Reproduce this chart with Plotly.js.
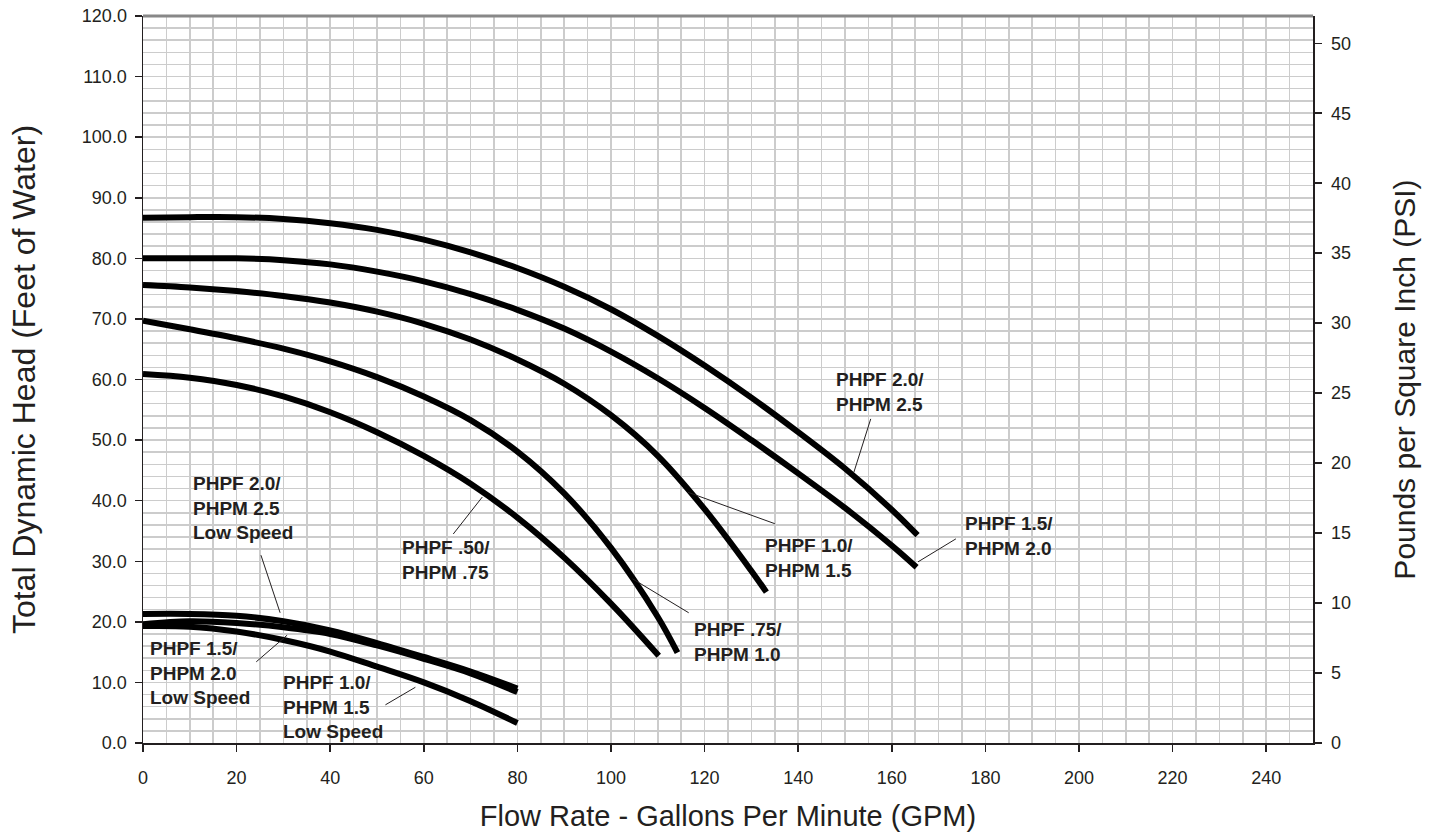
<!DOCTYPE html>
<html>
<head>
<meta charset="utf-8">
<script src="https://cdn.plot.ly/plotly-3.0.1.min.js"></script>
<style>
  html, body { margin: 0; padding: 0; background: #ffffff; }
  #chart { width: 1437px; height: 837px; }
</style>
</head>
<body>
<div id="chart"></div>
<script>
// ---- Data ----
const FT_PER_PSI = 2.31;

const phpf20_x = [0, 10, 20, 30, 40, 50, 60, 70, 80, 90, 100, 110, 120, 130, 140, 150, 160, 165.5];
const phpf20_y = [86.7, 86.8, 86.8, 86.5, 85.8, 84.7, 83.1, 81.0, 78.4, 75.3, 71.6, 67.2, 62.3, 57.0, 51.3, 45.3, 38.5, 34.3];

const phpf15_x = [0, 10, 20, 30, 40, 50, 60, 70, 80, 90, 100, 110, 120, 130, 140, 150, 160, 165.3];
const phpf15_y = [80.0, 80.0, 80.0, 79.7, 79.0, 77.8, 76.2, 74.1, 71.5, 68.4, 64.6, 60.2, 55.3, 50.0, 44.5, 38.8, 32.6, 29.0];

const phpf10_x = [0, 10, 20, 30, 40, 50, 60, 70, 80, 90, 100, 110, 120, 130, 133.2];
const phpf10_y = [75.6, 75.2, 74.6, 73.8, 72.7, 71.2, 69.2, 66.6, 63.3, 59.3, 54.1, 47.4, 38.6, 28.4, 24.9];

const phpf75_x = [0, 10, 20, 30, 40, 50, 60, 70, 80, 90, 100, 110, 114.2];
const phpf75_y = [69.7, 68.3, 66.8, 65.1, 63.0, 60.4, 57.2, 53.3, 48.1, 41.2, 32.2, 20.8, 14.9];

const phpf50_x = [0, 10, 20, 30, 40, 50, 60, 70, 80, 90, 100, 110.2];
const phpf50_y = [60.9, 60.3, 59.1, 57.2, 54.6, 51.3, 47.4, 42.8, 37.2, 30.6, 23.0, 14.4];

const ls20_x = [0, 10, 20, 30, 40, 50, 60, 70, 80];
const ls20_y = [21.3, 21.3, 21.0, 20.1, 18.6, 16.5, 14.2, 11.8, 9.0];

const ls15_x = [0, 10, 20, 30, 40, 50, 60, 70, 80];
const ls15_y = [19.6, 20.1, 19.8, 19.1, 18.0, 16.1, 13.9, 11.5, 8.4];

const ls10_x = [0, 10, 20, 30, 40, 50, 60, 70, 80];
const ls10_y = [19.3, 19.2, 18.4, 17.0, 15.1, 12.6, 10.0, 6.9, 3.3];

const leftTickVals = [0, 10, 20, 30, 40, 50, 60, 70, 80, 90, 100, 110, 120];
const rightTickVals = [0, 5, 10, 15, 20, 25, 30, 35, 40, 45, 50];
const xTickVals = [0, 20, 40, 60, 80, 100, 120, 140, 160, 180, 200, 220, 240];

const labelTexts = [
  "PHPF 2.0/<br>PHPM 2.5",
  "PHPF 1.5/<br>PHPM 2.0",
  "PHPF 1.0/<br>PHPM 1.5",
  "PHPF .75/<br>PHPM 1.0",
  "PHPF .50/<br>PHPM .75",
  "PHPF 2.0/<br>PHPM 2.5<br>Low Speed",
  "PHPF 1.5/<br>PHPM 2.0<br>Low Speed",
  "PHPF 1.0/<br>PHPM 1.5<br>Low Speed"
];

// ---- Styling / layout ----
const INK = '#231f20';
const GRID = '#cccccc';
const FONT = 'Liberation Sans, Arial, sans-serif';

function curve(x, y, name, w) {
  return {
    x: x, y: y, name: name, type: 'scatter', mode: 'lines',
    line: { color: '#000000', width: w, shape: 'spline', smoothing: 1.0 },
    hoverinfo: 'x+y+name', showlegend: false
  };
}

const traces = [
  curve(phpf20_x, phpf20_y, labelTexts[0], 6),
  curve(phpf15_x, phpf15_y, labelTexts[1], 6),
  curve(phpf10_x, phpf10_y, labelTexts[2], 6),
  curve(phpf75_x, phpf75_y, labelTexts[3], 6),
  curve(phpf50_x, phpf50_y, labelTexts[4], 6),
  curve(ls20_x, ls20_y, labelTexts[5], 6),
  curve(ls15_x, ls15_y, labelTexts[6], 6),
  curve(ls10_x, ls10_y, labelTexts[7], 6),
  // same top curve expressed in PSI, attached to the right-hand axis (invisible)
  {
    x: phpf20_x, y: phpf20_y.map(v => v / FT_PER_PSI), yaxis: 'y2',
    type: 'scatter', mode: 'lines', line: { width: 0, color: 'rgba(0,0,0,0)' },
    hoverinfo: 'skip', showlegend: false
  }
];

// label placement (data coordinates): [x-left, y-center]
const labelPos = [
  [147.6, 57.9], [175.2, 34.2], [132.4, 30.6], [117.2, 16.6],
  [55.0, 30.2], [10.3, 38.8], [1.1, 11.6], [29.5, 5.9]
];
// leader lines: [x0, y0, x1, y1]
const leaders = [
  [155.5, 53.5, 151.9, 44.7],
  [173.7, 33.7, 165.6, 29.9],
  [135.0, 36.2, 116.4, 41.4],
  [116.6, 21.5, 104.6, 27.1],
  [66.3, 34.5, 72.5, 40.6],
  [25.2, 31.0, 29.3, 21.5],
  [24.2, 13.4, 30.8, 17.8],
  [51.8, 6.3, 58.2, 9.2]
];

const annotations = labelTexts.map((t, i) => ({
  x: labelPos[i][0], y: labelPos[i][1], xref: 'x', yref: 'y',
  text: '<b>' + t + '</b>', showarrow: false,
  xanchor: 'left', yanchor: 'middle', align: 'left',
  font: { family: FONT, size: 19, color: INK }
}));

const shapes = leaders.map(l => ({
  type: 'line', xref: 'x', yref: 'y',
  x0: l[0], y0: l[1], x1: l[2], y1: l[3],
  line: { color: INK, width: 1 }
}));
// top border of plot area
shapes.push({
  type: 'line', xref: 'paper', yref: 'paper', x0: 0, x1: 1, y0: 1, y1: 1,
  line: { color: '#888888', width: 3 }
});

const tickFont = { family: FONT, size: 18, color: INK };

const layout = {
  width: 1437, height: 837,
  margin: { l: 143, r: 124, t: 16, b: 94 },
  paper_bgcolor: '#ffffff', plot_bgcolor: '#ffffff',
  showlegend: false,
  xaxis: {
    range: [0, 250], tickvals: xTickVals, ticks: 'outside', ticklen: 7, tickwidth: 1.5,
    tickcolor: INK, tickfont: tickFont, ticklabelstandoff: 11,
    showline: true, linecolor: INK, linewidth: 1.5,
    showgrid: true, gridcolor: GRID, gridwidth: 1.5,
    minor: { dtick: 5, showgrid: true, gridcolor: GRID, gridwidth: 1.5 },
    zeroline: false, automargin: false,
    title: { text: 'Flow Rate - Gallons Per Minute (GPM)', font: { family: FONT, size: 29, color: INK }, standoff: 18 }
  },
  yaxis: {
    range: [0, 120], tickvals: leftTickVals, tickformat: '.1f', ticks: 'outside', ticklen: 7,
    tickwidth: 1.5, tickcolor: INK, tickfont: tickFont, ticklabelstandoff: 4,
    showline: true, linecolor: INK, linewidth: 1.5,
    showgrid: true, gridcolor: GRID, gridwidth: 1.5,
    minor: { dtick: 2, showgrid: true, gridcolor: GRID, gridwidth: 1.5 },
    zeroline: false, automargin: false,
    title: { text: 'Total Dynamic Head (Feet of Water)', font: { family: FONT, size: 32, color: INK }, standoff: 36 }
  },
  yaxis2: {
    overlaying: 'y', side: 'right', anchor: 'x',
    range: [0, 120 / FT_PER_PSI], tickvals: rightTickVals, ticks: 'outside', ticklen: 7,
    tickwidth: 1.5, tickcolor: INK, tickfont: tickFont, ticklabelstandoff: 6,
    showline: true, linecolor: INK, linewidth: 1.5,
    showgrid: false, zeroline: false, automargin: false,
    title: { text: 'Pounds per Square Inch (PSI)', font: { family: FONT, size: 30, color: INK }, standoff: 44 }
  },
  annotations: annotations,
  shapes: shapes
};

Plotly.newPlot('chart', traces, layout, { displayModeBar: false, staticPlot: true });
</script>
</body>
</html>
